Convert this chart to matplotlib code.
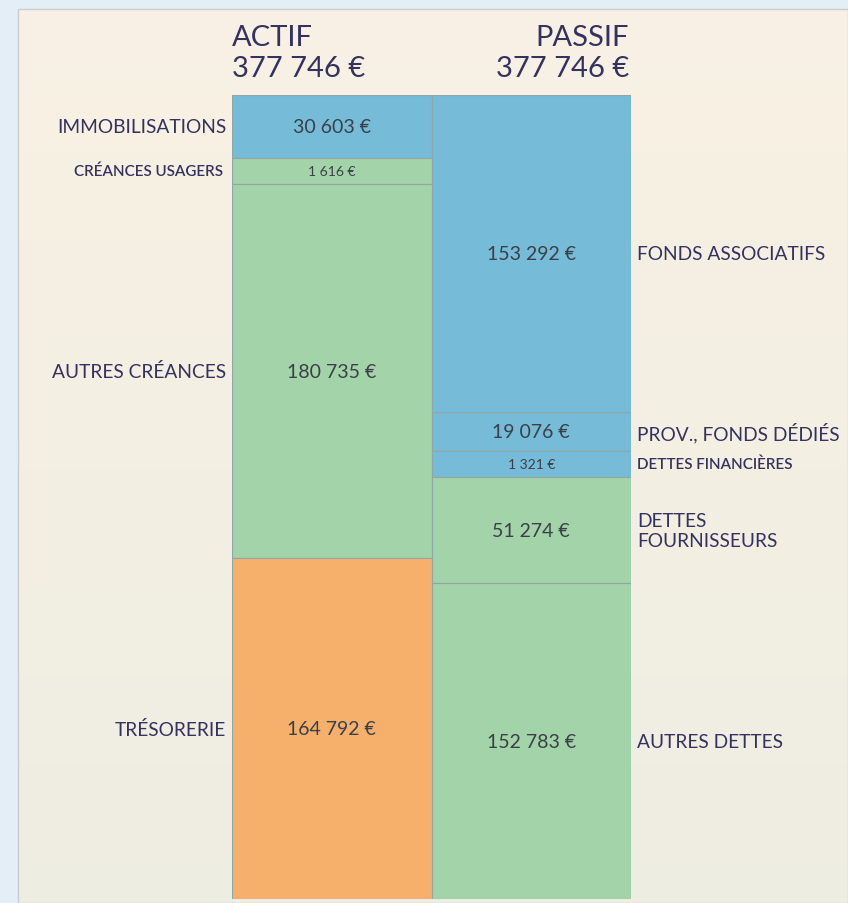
"""Bilan simplifié : actif / passif en colonnes empilées."""

import matplotlib.pyplot as plt
import numpy as np
from matplotlib.patches import Rectangle

actif_labels = ["IMMOBILISATIONS", "CRÉANCES USAGERS", "AUTRES CRÉANCES", "TRÉSORERIE"]
actif_values = [30603, 1616, 180735, 164792]
actif_colors = ["#76BBD7", "#A3D3A8", "#A3D3A8", "#F6B06B"]

passif_labels = ["FONDS ASSOCIATIFS", "PROV., FONDS DÉDIÉS", "DETTES FINANCIÈRES",
                 "DETTES\nFOURNISSEURS", "AUTRES DETTES"]
passif_values = [153292, 19076, 1321, 51274, 152783]
passif_colors = ["#76BBD7", "#76BBD7", "#76BBD7", "#A3D3A8", "#A3D3A8"]

TOTAL = 377746
MIN_SHOWN = 12500  # tiny items get a minimum height so their label fits

TXT = "#34325E"
VAL = "#3B4048"
FONT = ["Lato", "DejaVu Sans"]

W, H = 848, 904


def fmt(v):
    return f"{v:,}".replace(",", " ") + " €"


def stack(values):
    shown = np.maximum(np.array(values, float), MIN_SHOWN)
    shown = shown / shown.sum()
    bottoms = np.concatenate([[0], np.cumsum(shown)[:-1]])
    return shown, bottoms


fig = plt.figure(figsize=(W / 100, H / 100), dpi=100)
fig.patch.set_facecolor("#E4EEF6")

# background panel with a soft vertical gradient
bg = fig.add_axes([18 / W, 0, 1 - 18 / W, 1 - 10 / H])
grad = np.linspace(0, 1, 256)[:, None]
c_top = np.array([0.975, 0.945, 0.895])
c_bot = np.array([0.935, 0.930, 0.885])
img = c_top[None, None, :] * (1 - grad[..., None]) + c_bot[None, None, :] * grad[..., None]
bg.imshow(img, aspect="auto", extent=[0, 1, 0, 1])
bg.set_axis_off()
fig.add_artist(Rectangle((18 / W, 0), 1 - 18 / W, 1 - 10 / H, transform=fig.transFigure,
                         fill=False, edgecolor="#C9CDD0", lw=1.0))

ax = fig.add_axes([232 / W, 1 - 900 / H, (631 - 232) / W, (900 - 96) / H])
ax.set_xlim(-0.5, 1.5)
ax.set_ylim(1, 0)
ax.set_axis_off()

for xpos, labels, values, colors, side in [
    (0, actif_labels, actif_values, actif_colors, "left"),
    (1, passif_labels, passif_values, passif_colors, "right"),
]:
    heights, bottoms = stack(values)
    ax.bar([xpos] * len(values), heights, bottom=bottoms, width=1.0, color=colors,
           edgecolor="#8FA7A8", linewidth=0.8, align="center")
    for lab, v, h, b in zip(labels, values, heights, bottoms):
        small = v < 5000
        yc = b + h / 2
        ax.text(xpos, yc, fmt(v), ha="center", va="center", color=VAL,
                fontsize=10 if small else 14, family=FONT)
        kw = dict(va="center", color=TXT, family=FONT, clip_on=False, linespacing=1.2,
                  fontsize=11 if small else 13.8,
                  fontweight="semibold" if small else "normal")
        if side == "left":
            ax.text(-0.545 if small else -0.53, yc, lab, ha="right", **kw)
        else:
            ax.text(1.53, yc, lab, ha="left", **kw)

# column totals
ax.text(-0.5, -0.017, f"ACTIF\n{fmt(TOTAL)}", ha="left", va="bottom", color=TXT,
        fontsize=21, family=FONT, linespacing=1.25, clip_on=False)
ax.text(1.49, -0.017, f"PASSIF\n{fmt(TOTAL)}", ha="right", va="bottom", color=TXT,
        fontsize=21, family=FONT, linespacing=1.25,
        multialignment="right", clip_on=False)

fig.savefig("out.png", dpi=100)
